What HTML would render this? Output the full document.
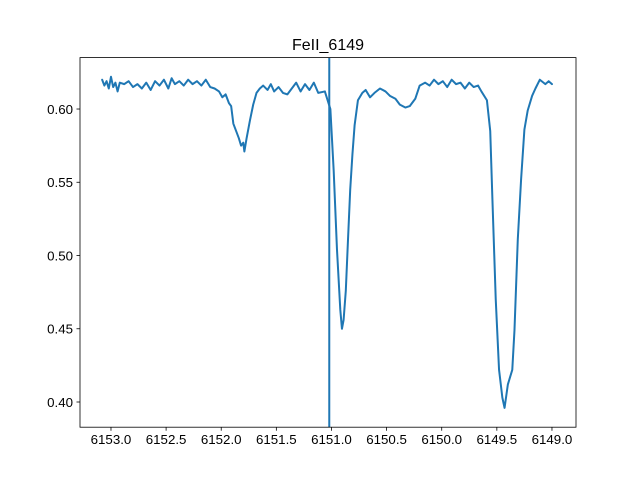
<!DOCTYPE html>
<html><head><meta charset="utf-8"><style>
html,body{margin:0;padding:0;background:#fff;}
svg{display:block;font-family:"Liberation Sans","DejaVu Sans",sans-serif;}
</style></head><body>
<svg id="chart" width="640" height="480" viewBox="0 0 640 480" xmlns="http://www.w3.org/2000/svg">
<rect width="640" height="480" fill="#fff"/>
<text x="328" y="50" text-anchor="middle" font-size="16">FeII_6149</text>
<g id="plot"></g>
</svg>
<script>
const wavelengths = [6153.08,6153.06,6153.04,6153.02,6153.00,6152.98,6152.96,6152.94,6152.92,6152.88,6152.84,6152.80,6152.76,6152.72,6152.68,6152.64,6152.60,6152.56,6152.52,6152.48,6152.45,6152.42,6152.38,6152.34,6152.30,6152.26,6152.22,6152.18,6152.14,6152.10,6152.06,
6152.02,6151.99,6151.96,6151.93,6151.91,6151.89,6151.86,6151.84,6151.82,6151.80,6151.79,6151.77,6151.74,6151.71,6151.68,6151.65,6151.62,6151.58,6151.55,6151.52,6151.48,6151.44,6151.40,6151.36,6151.32,6151.28,6151.24,6151.20,6151.16,6151.12,
6151.06,6151.01,6150.98,6150.95,6150.92,6150.905,6150.89,6150.87,6150.85,6150.83,6150.81,6150.79,6150.76,6150.72,6150.69,6150.65,6150.61,6150.56,6150.51,6150.47,6150.42,6150.38,6150.33,6150.29,6150.24,6150.20,6150.15,
6150.11,6150.07,6150.03,6149.99,6149.95,6149.91,6149.87,6149.83,6149.79,6149.75,6149.71,6149.67,6149.64,6149.59,6149.56,6149.54,6149.51,6149.48,6149.45,6149.43,6149.40,6149.36,6149.34,6149.31,6149.28,6149.25,6149.22,6149.18,6149.15,6149.11,6149.06,6149.03,6149.00];
const flux = [.620,.616,.619,.614,.622,.615,.618,.612,.618,.617,.619,.615,.617,.614,.618,.613,.619,.616,.620,.614,.621,.617,.619,.616,.620,.617,.619,.616,.620,.615,.614,
.612,.608,.610,.604,.602,.590,.584,.580,.575,.577,.571,.580,.592,.603,.611,.614,.616,.613,.617,.612,.615,.611,.610,.614,.618,.612,.617,.613,.618,.611,
.612,.600,.558,.504,.463,.450,.456,.476,.511,.545,.569,.589,.606,.611,.613,.608,.611,.614,.612,.609,.607,.603,.601,.602,.607,.616,.618,
.616,.620,.617,.619,.615,.620,.617,.618,.614,.618,.615,.616,.612,.606,.585,.538,.470,.422,.403,.396,.412,.422,.449,.511,.552,.586,.599,.609,.614,.620,.617,.619,.617];
const xTicks = [6153.0,6152.5,6152.0,6151.5,6151.0,6150.5,6150.0,6149.5,6149.0];
const xTickLabels = ["6153.0","6152.5","6152.0","6151.5","6151.0","6150.5","6150.0","6149.5","6149.0"];
const yTicks = [0.40,0.45,0.50,0.55,0.60];
const yTickLabels = ["0.40","0.45","0.50","0.55","0.60"];
const markerLine = [6151.02];

const L=80,R=576,T=57.6,B=427.2;
const xMin=6153.281,xMax=6148.782,yMin=0.3828,yMax=0.6351;
function sx(v){return L+(v-xMin)/(xMax-xMin)*(R-L);}
function sy(v){return B-(v-yMin)/(yMax-yMin)*(B-T);}
const NS="http://www.w3.org/2000/svg";
const g=document.getElementById('plot');
function mk(tag,attrs){const e=document.createElementNS(NS,tag);for(const k in attrs)e.setAttribute(k,attrs[k]);g.appendChild(e);return e;}

let d="";
for(let i=0;i<wavelengths.length;i++){d+=(i?"L":"M")+sx(wavelengths[i]).toFixed(2)+","+sy(flux[i]).toFixed(2);}
const line=mk('path',{d:d,fill:'none',stroke:'#1f77b4','stroke-width':2,'stroke-linejoin':'round','stroke-linecap':'round'});



markerLine.forEach(v=>{
  const vl=mk('line',{x1:sx(v),x2:sx(v),y1:T,y2:B,stroke:'#1f77b4','stroke-width':2});
  
  
});

const frame=mk('rect',{x:L,y:T,width:R-L,height:B-T,fill:'none',stroke:'#000','stroke-width':0.8});



xTicks.forEach((v,i)=>{
  const x=sx(v);
  const t=mk('line',{x1:x,x2:x,y1:B,y2:B+3.5,stroke:'#000','stroke-width':0.8});
  
  
  const tx=mk('text',{x:x,y:B+17,'text-anchor':'middle','font-size':13.3});
  tx.textContent=xTickLabels[i];
  
  
});
yTicks.forEach((v,i)=>{
  const y=sy(v);
  const t=mk('line',{x1:L-3.5,x2:L,y1:y,y2:y,stroke:'#000','stroke-width':0.8});
  
  
  const tx=mk('text',{x:L-7,y:y+4.8,'text-anchor':'end','font-size':13.3});
  tx.textContent=yTickLabels[i];
  
  
});
</script>
</body></html>
